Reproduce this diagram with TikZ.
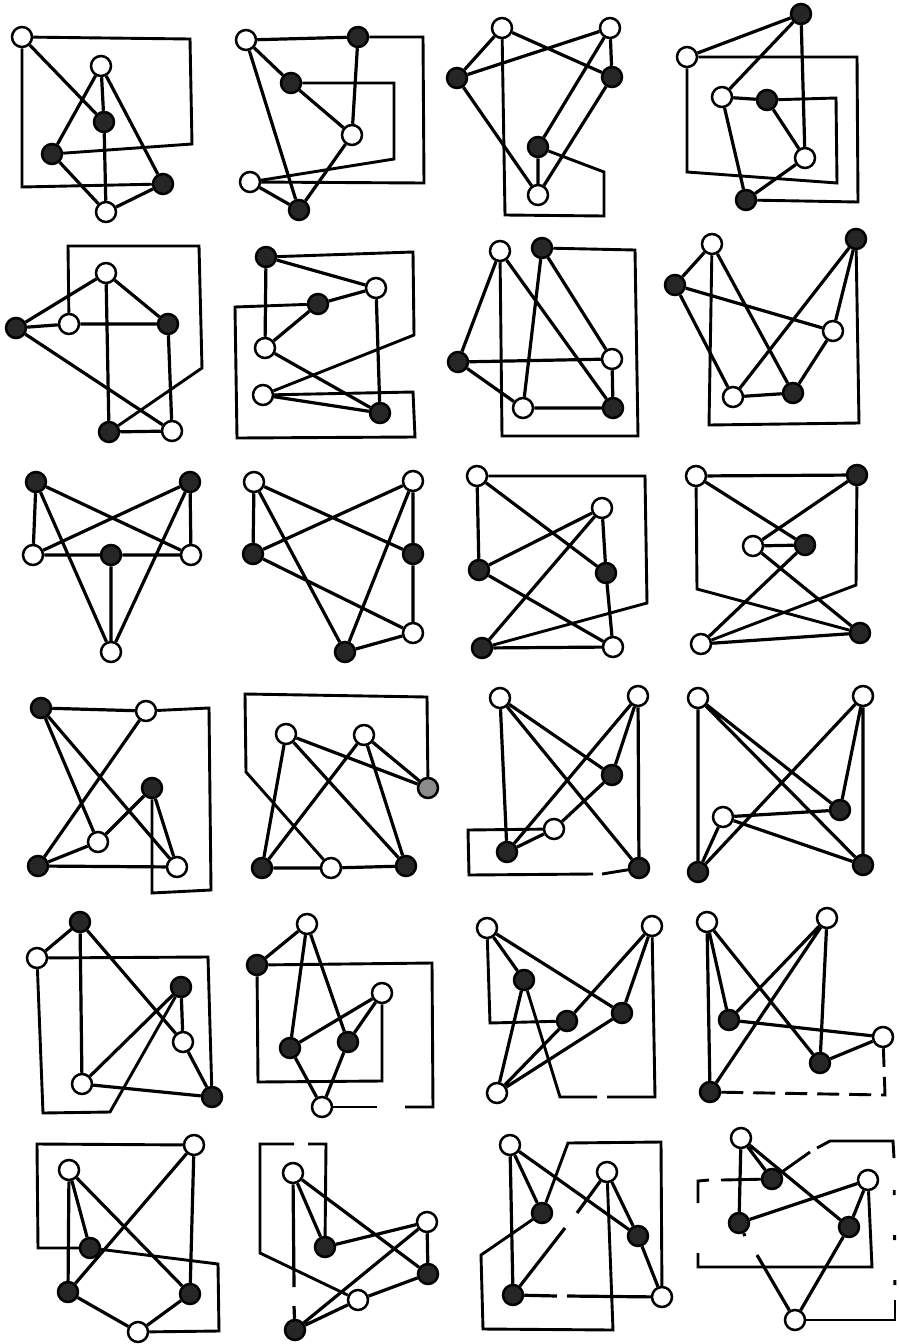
\documentclass[tikz,border=0pt]{standalone}
\begin{document}
\begin{tikzpicture}[
  x=1pt, y=-1pt,
  vtx/.style={draw, circle, line width=2.5pt, minimum size=20pt, inner sep=0pt, fill=white},
  vtxd/.style={vtx, fill=black!85},
  vtxg/.style={vtx, fill=black!45},
  link/.style={line width=3.2pt, line join=round},
  route/.style={line width=2.9pt, line join=miter},
  broken/.style={route, dash pattern=on 22pt off 10pt}
]
\useasboundingbox (0,0) rectangle (899,1344);

% row 1
\node[vtx]  (a1) at (22,37) {};
\node[vtx]  (b1) at (101,66) {};
\node[vtxd] (c1) at (104,122) {};
\node[vtxd] (d1) at (52,154) {};
\node[vtxd] (e1) at (163,184) {};
\node[vtx]  (f1) at (106,212) {};
\draw[link] (a1) -- (c1) (b1) -- (c1) (c1) -- (f1) (b1) -- (d1) (b1) -- (e1) (d1) -- (f1) (e1) -- (f1);
\draw[route] (d1) -- (192,144) -- (190,39) -- (a1);
\draw[route] (a1) -- (22,187) -- (e1);

\node[vtx]  (a2) at (246,40) {};
\node[vtxd] (b2) at (358,37) {};
\node[vtxd] (c2) at (291,83) {};
\node[vtx]  (d2) at (352,135) {};
\node[vtx]  (e2) at (250,182) {};
\node[vtxd] (f2) at (299,210) {};
\draw[link] (a2) -- (b2) (a2) -- (c2) (c2) -- (d2) (b2) -- (d2) (a2) -- (f2) (d2) -- (f2) (e2) -- (f2);
\draw[route] (b2) -- (423,37) -- (424,183) -- (e2);
\draw[route] (c2) -- (394,83) -- (394,159) -- (e2);

\node[vtx]  (a3) at (502,28) {};
\node[vtx]  (b3) at (610,28) {};
\node[vtxd] (c3) at (457,78) {};
\node[vtxd] (d3) at (612,77) {};
\node[vtxd] (e3) at (538,147) {};
\node[vtx]  (f3) at (538,195) {};
\draw[link] (a3) -- (c3) (a3) -- (d3) (c3) -- (b3) (b3) -- (d3) (b3) -- (e3) (d3) -- (f3) (c3) -- (f3) (e3) -- (f3);
\draw[route] (a3) -- (505,215) -- (604,216) -- (604,172) -- (e3);

\node[vtxd] (a4) at (801,14) {};
\node[vtx]  (b4) at (687,57) {};
\node[vtx]  (c4) at (722,97) {};
\node[vtxd] (d4) at (767,100) {};
\node[vtx]  (e4) at (805,158) {};
\node[vtxd] (f4) at (746,200) {};
\draw[link] (a4) -- (b4) (a4) -- (c4) (a4) -- (e4) (c4) -- (d4) (d4) -- (e4) (c4) -- (f4) (e4) -- (f4);
\draw[route] (b4) -- (857,57) -- (858,202) -- (f4);
\draw[route] (b4) -- (687,172) -- (837,183) -- (836,98) -- (d4);

% row 2
\node[vtx]  (a5) at (106,273) {};
\node[vtxd] (b5) at (16,328) {};
\node[vtx]  (c5) at (69,324) {};
\node[vtxd] (d5) at (168,324) {};
\node[vtxd] (e5) at (109,432) {};
\node[vtx]  (f5) at (172,431) {};
\draw[link] (b5) -- (a5) (b5) -- (c5) (c5) -- (d5) (a5) -- (d5) (a5) -- (e5) (b5) -- (f5) (d5) -- (f5) (e5) -- (f5);
\draw[route] (c5) -- (68,246) -- (199,246) -- (202,368) -- (e5);

\node[vtxd] (a6) at (266,257) {};
\node[vtx]  (b6) at (376,288) {};
\node[vtxd] (c6) at (318,304) {};
\node[vtx]  (d6) at (265,348) {};
\node[vtx]  (e6) at (263,395) {};
\node[vtxd] (f6) at (380,413) {};
\draw[link] (a6) -- (b6) (a6) -- (d6) (c6) -- (b6) (c6) -- (d6) (d6) -- (f6) (e6) -- (f6) (b6) -- (f6);
\draw[route] (a6) -- (413,252) -- (414,335) -- (e6);
\draw[route] (e6) -- (413,392) -- (415,437) -- (237,438) -- (235,307) -- (c6);

\node[vtx]  (a7) at (500,251) {};
\node[vtxd] (b7) at (542,248) {};
\node[vtxd] (c7) at (458,362) {};
\node[vtx]  (d7) at (612,359) {};
\node[vtx]  (e7) at (523,408) {};
\node[vtxd] (f7) at (613,408) {};
\draw[link] (a7) -- (c7) (a7) -- (f7) (b7) -- (e7) (b7) -- (d7) (c7) -- (d7) (c7) -- (e7) (e7) -- (f7) (d7) -- (f7);
\draw[route] (b7) -- (635,250) -- (638,436) -- (502,436) -- (a7);

\node[vtx]  (a8) at (712,244) {};
\node[vtxd] (b8) at (856,239) {};
\node[vtxd] (c8) at (675,285) {};
\node[vtx]  (d8) at (833,331) {};
\node[vtx]  (e8) at (733,397) {};
\node[vtxd] (f8) at (793,393) {};
\draw[link] (a8) -- (c8) (a8) -- (f8) (c8) -- (d8) (c8) -- (e8) (b8) -- (e8) (b8) -- (d8) (d8) -- (f8) (e8) -- (f8);
\draw[route] (a8) -- (709,425) -- (859,423) -- (b8);

% row 3
\node[vtxd] (a9) at (36,482) {};
\node[vtxd] (b9) at (190,482) {};
\node[vtx]  (c9) at (33,555) {};
\node[vtxd] (d9) at (111,555) {};
\node[vtx]  (e9) at (191,555) {};
\node[vtx]  (f9) at (111,652) {};
\draw[link] (a9) -- (c9) (a9) -- (e9) (a9) -- (f9) (b9) -- (c9) (b9) -- (e9) (b9) -- (f9) (c9) -- (d9) (d9) -- (e9) (d9) -- (f9);

\node[vtx]  (a10) at (254,482) {};
\node[vtx]  (b10) at (413,481) {};
\node[vtxd] (c10) at (253,554) {};
\node[vtxd] (d10) at (413,554) {};
\node[vtx]  (e10) at (413,633) {};
\node[vtxd] (f10) at (345,652) {};
\draw[link] (a10) -- (c10) (a10) -- (d10) (a10) -- (f10) (b10) -- (c10) (b10) -- (d10) (b10) -- (f10) (c10) -- (e10) (d10) -- (e10) (e10) -- (f10);

\node[vtx]  (a11) at (477,476) {};
\node[vtx]  (b11) at (602,508) {};
\node[vtxd] (c11) at (479,570) {};
\node[vtxd] (d11) at (606,573) {};
\node[vtxd] (e11) at (482,648) {};
\node[vtx]  (f11) at (613,647) {};
\draw[link] (a11) -- (c11) (a11) -- (d11) (b11) -- (c11) (b11) -- (e11) (b11) -- (d11) (c11) -- (f11) (d11) -- (f11) (e11) -- (f11);
\draw[route] (a11) -- (645,476) -- (647,603) -- (e11);

\node[vtx]  (a12) at (696,476) {};
\node[vtxd] (b12) at (857,475) {};
\node[vtx]  (c12) at (753,546) {};
\node[vtxd] (d12) at (805,545) {};
\node[vtx]  (e12) at (701,644) {};
\node[vtxd] (f12) at (860,633) {};
\draw[link] (a12) -- (b12) (a12) -- (d12) (b12) -- (c12) (c12) -- (d12) (c12) -- (f12) (d12) -- (e12) (e12) -- (f12);
\draw[route] (b12) -- (856,585) -- (e12);
\draw[route] (a12) -- (697,589) -- (f12);

% row 4
\node[vtxd] (a13) at (41,708) {};
\node[vtx]  (b13) at (146,711) {};
\node[vtxd] (c13) at (152,788) {};
\node[vtx]  (d13) at (98,842) {};
\node[vtxd] (e13) at (38,866) {};
\node[vtx]  (f13) at (177,867) {};
\draw[link] (a13) -- (b13) (a13) -- (d13) (a13) -- (f13) (b13) -- (e13) (c13) -- (d13) (c13) -- (f13) (d13) -- (e13) (e13) -- (f13);
\draw[route] (b13) -- (209,708) -- (211,890) -- (152,893) -- (c13);

\node[vtx]  (a14) at (286,734) {};
\node[vtx]  (b14) at (364,735) {};
\node[vtxg] (c14) at (428,788) {};
\node[vtxd] (d14) at (262,868) {};
\node[vtx]  (e14) at (331,868) {};
\node[vtxd] (f14) at (406,866) {};
\draw[link] (a14) -- (c14) (a14) -- (d14) (a14) -- (f14) (b14) -- (d14) (b14) -- (c14) (b14) -- (f14) (d14) -- (e14) (e14) -- (f14);
\draw[route] (c14) -- (427,697) -- (245,694) -- (246,772) -- (e14);

\node[vtx]  (a15) at (500,698) {};
\node[vtx]  (b15) at (638,696) {};
\node[vtxd] (c15) at (612,775) {};
\node[vtx]  (d15) at (554,829) {};
\node[vtxd] (e15) at (507,852) {};
\node[vtxd] (f15) at (639,868) {};
\coordinate (g15a) at (593,874);
\coordinate (g15b) at (602,874);
\draw[link] (a15) -- (e15) (a15) -- (c15) (a15) -- (f15) (b15) -- (e15) (b15) -- (c15) (b15) -- (f15) (c15) -- (d15) (d15) -- (e15);
\draw[route] (d15) -- (468,830) -- (469,875) -- (g15a);
\draw[route] (g15b) -- (f15);

\node[vtx]  (a16) at (698,698) {};
\node[vtx]  (b16) at (863,696) {};
\node[vtxd] (c16) at (840,810) {};
\node[vtx]  (d16) at (723,817) {};
\node[vtxd] (e16) at (698,872) {};
\node[vtxd] (f16) at (863,865) {};
\draw[link] (a16) -- (e16) (a16) -- (c16) (a16) -- (f16) (b16) -- (e16) (b16) -- (c16) (b16) -- (f16) (d16) -- (c16) (d16) -- (f16) (d16) -- (e16);

% row 5
\node[vtxd] (a17) at (80,922) {};
\node[vtx]  (b17) at (37,958) {};
\node[vtxd] (c17) at (181,987) {};
\node[vtx]  (d17) at (183,1042) {};
\node[vtx]  (e17) at (82,1084) {};
\node[vtxd] (f17) at (212,1097) {};
\draw[link] (a17) -- (b17) (a17) -- (e17) (a17) -- (d17) (c17) -- (d17) (c17) -- (e17) (d17) -- (f17) (e17) -- (f17);
\draw[route] (c17) -- (110,1112) -- (43,1113) -- (b17);
\draw[route] (b17) -- (208,957) -- (f17);

\node[vtx]  (a18) at (307,924) {};
\node[vtxd] (b18) at (257,965) {};
\node[vtx]  (c18) at (382,993) {};
\node[vtxd] (d18) at (290,1048) {};
\node[vtxd] (e18) at (348,1042) {};
\node[vtx]  (f18) at (322,1107) {};
\coordinate (g18a) at (377,1107);
\coordinate (g18b) at (405,1107);
\draw[link] (a18) -- (b18) (a18) -- (d18) (a18) -- (e18) (c18) -- (d18) (c18) -- (e18) (d18) -- (f18) (e18) -- (f18);
\draw[route] (c18) -- (382,1081) -- (258,1082) -- (b18);
\draw[route] (f18) -- (g18a);
\draw[route] (g18b) -- (433,1107) -- (432,963) -- (b18);

\node[vtx]  (a19) at (487,928) {};
\node[vtx]  (b19) at (652,926) {};
\node[vtxd] (c19) at (524,980) {};
\node[vtxd] (d19) at (567,1021) {};
\node[vtxd] (e19) at (622,1013) {};
\node[vtx]  (f19) at (497,1093) {};
\coordinate (g19a) at (597,1097);
\coordinate (g19b) at (607,1097);
\draw[link] (a19) -- (c19) (a19) -- (e19) (b19) -- (d19) (b19) -- (e19) (c19) -- (f19) (d19) -- (f19) (e19) -- (f19);
\draw[route] (a19) -- (490,1023) -- (d19);
\draw[route] (c19) -- (560,1097) -- (g19a);
\draw[route] (g19b) -- (655,1097) -- (b19);

\node[vtx]  (a20) at (707,922) {};
\node[vtx]  (b20) at (827,918) {};
\node[vtxd] (c20) at (729,1020) {};
\node[vtx]  (d20) at (883,1037) {};
\node[vtxd] (e20) at (820,1063) {};
\node[vtxd] (f20) at (710,1092) {};
\draw[link] (a20) -- (f20) (a20) -- (c20) (a20) -- (e20) (b20) -- (c20) (b20) -- (f20) (b20) -- (e20) (c20) -- (d20) (d20) -- (e20);
\draw[broken] (f20) -- (885,1095) -- (d20);

% row 6
\node[vtx]  (a21) at (194,1145) {};
\node[vtx]  (b21) at (69,1170) {};
\node[vtxd] (c21) at (90,1248) {};
\node[vtxd] (d21) at (68,1292) {};
\node[vtxd] (e21) at (190,1294) {};
\node[vtx]  (f21) at (138,1332) {};
\draw[link] (b21) -- (c21) (b21) -- (d21) (b21) -- (e21) (a21) -- (d21) (a21) -- (e21) (d21) -- (f21) (e21) -- (f21);
\draw[route] (a21) -- (37,1144) -- (38,1248) -- (c21);
\draw[route] (c21) -- (218,1264) -- (219,1331) -- (f21);

\node[vtx]  (a22) at (293,1173) {};
\node[vtx]  (b22) at (427,1222) {};
\node[vtxd] (c22) at (325,1247) {};
\node[vtxd] (d22) at (428,1274) {};
\node[vtx]  (e22) at (358,1300) {};
\node[vtxd] (f22) at (295,1330) {};
\coordinate (g22a) at (294,1287);
\coordinate (g22b) at (294,1306);
\coordinate (g22c) at (308,1144);
\coordinate (g22d) at (294,1144);
\draw[link] (a22) -- (c22) (a22) -- (d22) (b22) -- (c22) (b22) -- (f22) (b22) -- (d22) (d22) -- (e22) (e22) -- (f22);
\draw[link] (a22) -- (g22a) (g22b) -- (f22);
\draw[route] (c22) -- (326,1144) -- (g22c);
\draw[route] (g22d) -- (260,1144) -- (260,1253) -- (e22);

\node[vtx]  (a23) at (510,1145) {};
\node[vtx]  (b23) at (607,1172) {};
\node[vtxd] (c23) at (542,1213) {};
\node[vtxd] (d23) at (638,1236) {};
\node[vtxd] (e23) at (513,1295) {};
\node[vtx]  (f23) at (662,1297) {};
\coordinate (g23a) at (577,1213);
\coordinate (g23b) at (565,1228);
\coordinate (g23c) at (557,1296);
\coordinate (g23d) at (567,1296);
\draw[link] (a23) -- (c23) (a23) -- (e23) (a23) -- (d23) (b23) -- (d23) (d23) -- (f23);
\draw[link] (b23) -- (g23a) (g23b) -- (e23) (e23) -- (g23c) (g23d) -- (f23);
\draw[route] (b23) -- (613,1330) -- (483,1329) -- (481,1255) -- (c23);
\draw[route] (c23) -- (568,1143) -- (661,1142) -- (f23);

\node[vtx]  (a24) at (741,1138) {};
\node[vtxd] (b24) at (772,1179) {};
\node[vtx]  (c24) at (868,1180) {};
\node[vtxd] (d24) at (739,1223) {};
\node[vtxd] (e24) at (849,1227) {};
\node[vtx]  (f24) at (795,1320) {};
\coordinate (g24a) at (745,1236);
\coordinate (g24b) at (757,1255);
\coordinate (g24c) at (721,1180);
\coordinate (g24d) at (709,1180);
\coordinate (g24e) at (698,1203);
\coordinate (g24f) at (698,1253);
\coordinate (g24g) at (810,1152);
\coordinate (g24h) at (817,1148);
\coordinate (g24i) at (894,1158);
\coordinate (g24j) at (895,1300);
\draw[link] (a24) -- (b24) (a24) -- (d24) (a24) -- (e24) (c24) -- (d24) (c24) -- (e24) (e24) -- (f24);
\draw[link] (d24) -- (g24a) (g24b) -- (f24);
\draw[route] (b24) -- (g24c);
\draw[route] (g24d) -- (698,1181) -- (g24e);
\draw[route] (g24f) -- (698,1267) -- (872,1267) -- (c24);
\draw[route] (b24) -- (g24g);
\draw[route] (g24h) -- (830,1141) -- (893,1141) -- (g24i);
\draw[route, dash pattern=on 5pt off 40pt, dash phase=13pt] (g24i) -- (g24j);
\draw[route] (g24j) -- (895,1320) -- (f24);
\end{tikzpicture}
\end{document}
